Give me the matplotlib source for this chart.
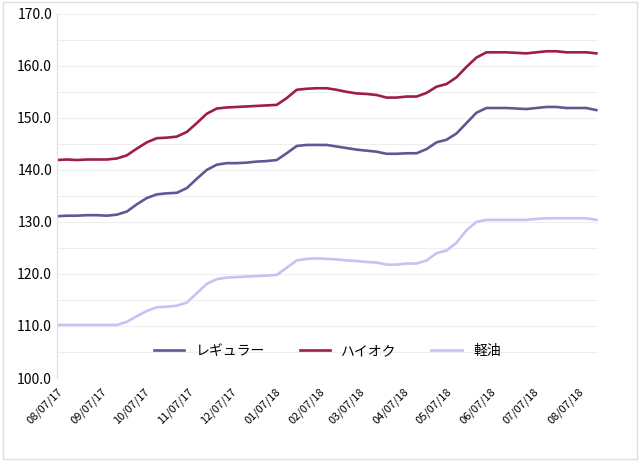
import matplotlib
matplotlib.use("Agg")
import matplotlib.pyplot as plt
import numpy as np
import datetime as dt

plt.rcParams["font.family"] = ["Noto Sans CJK JP"]

start = dt.date(2017, 8, 7)
regular = [131.1, 131.2, 131.2, 131.3, 131.3, 131.2, 131.4, 132.0, 133.4, 134.6,
           135.3, 135.5, 135.6, 136.5, 138.3, 140.0, 141.0, 141.3, 141.3, 141.4,
           141.6, 141.7, 141.9, 143.2, 144.6, 144.8, 144.8, 144.8, 144.5, 144.2,
           143.9, 143.7, 143.5, 143.1, 143.1, 143.2, 143.2, 144.0, 145.3, 145.8,
           147.0, 149.0, 151.0, 151.9, 151.9, 151.9, 151.8, 151.7, 151.9, 152.1,
           152.1, 151.9, 151.9, 151.9, 151.5]
highoctane = [141.9, 142.0, 141.9, 142.0, 142.0, 142.0, 142.2, 142.8, 144.1, 145.3,
              146.1, 146.2, 146.4, 147.3, 149.0, 150.8, 151.8, 152.0, 152.1, 152.2,
              152.3, 152.4, 152.5, 153.8, 155.4, 155.6, 155.7, 155.7, 155.4, 155.0,
              154.7, 154.6, 154.4, 153.9, 153.9, 154.1, 154.1, 154.8, 156.0, 156.5,
              157.8, 159.8, 161.6, 162.6, 162.6, 162.6, 162.5, 162.4, 162.6, 162.8,
              162.8, 162.6, 162.6, 162.6, 162.4]
diesel = [110.2, 110.2, 110.2, 110.2, 110.2, 110.2, 110.2, 110.8, 111.9, 112.9,
          113.6, 113.7, 113.9, 114.5, 116.3, 118.1, 119.0, 119.3, 119.4, 119.5,
          119.6, 119.7, 119.8, 121.2, 122.6, 122.9, 123.0, 122.9, 122.8, 122.6,
          122.5, 122.3, 122.2, 121.8, 121.8, 122.0, 122.0, 122.6, 124.0, 124.5,
          126.0, 128.4, 130.0, 130.4, 130.4, 130.4, 130.4, 130.4, 130.6, 130.7,
          130.7, 130.7, 130.7, 130.7, 130.4]
names = ["レギュラー", "ハイオク", "軽油"]
colors = ["#5c5a94", "#9c1d50", "#c4c4f4"]

dates = [start + dt.timedelta(weeks=i) for i in range(len(regular))]
tick_dates = [dt.date(2017 + (7 + m) // 12, (7 + m) % 12 + 1, 7) for m in range(13)]
tick_labels = [d.strftime("%m/%d/%y") for d in tick_dates]

fig = plt.figure(figsize=(6.4, 4.61), dpi=100)
ax = fig.add_axes([0.089, 0.18, 0.845, 0.79])
for s, n, c in zip([regular, highoctane, diesel], names, colors):
    ax.plot(dates, s, color=c, lw=1.9, label=n)

ax.set_ylim(100, 170)
ax.set_yticks(np.arange(100, 171, 10))
ax.set_yticklabels([f"{v:.1f}" for v in range(100, 171, 10)], fontsize=10)
ax.set_yticks(np.arange(100, 171, 5), minor=True)
ax.tick_params(axis="y", which="both", length=0)
ax.grid(axis="y", which="both", color="#eeeeee", lw=0.8)
ax.set_xlim(start, dt.date(2018, 8, 21))
ax.set_xticks(tick_dates)
ax.set_xticklabels(tick_labels, rotation=45, ha="right", rotation_mode="anchor", fontsize=8)
ax.tick_params(axis="x", length=0, pad=6)
for sp in ["top", "right", "bottom"]:
    ax.spines[sp].set_visible(False)
ax.spines["left"].set_color("#dddddd")
ax.legend(loc="lower center", bbox_to_anchor=(0.5, 0.02), ncol=3, frameon=False,
          fontsize=10, handlelength=2.2, columnspacing=2.5)
fig.patches.append(plt.Rectangle((0.005, 0.005), 0.99, 0.99, transform=fig.transFigure,
                                 fill=False, edgecolor="#dddddd", lw=1))
fig.savefig("out.png")
